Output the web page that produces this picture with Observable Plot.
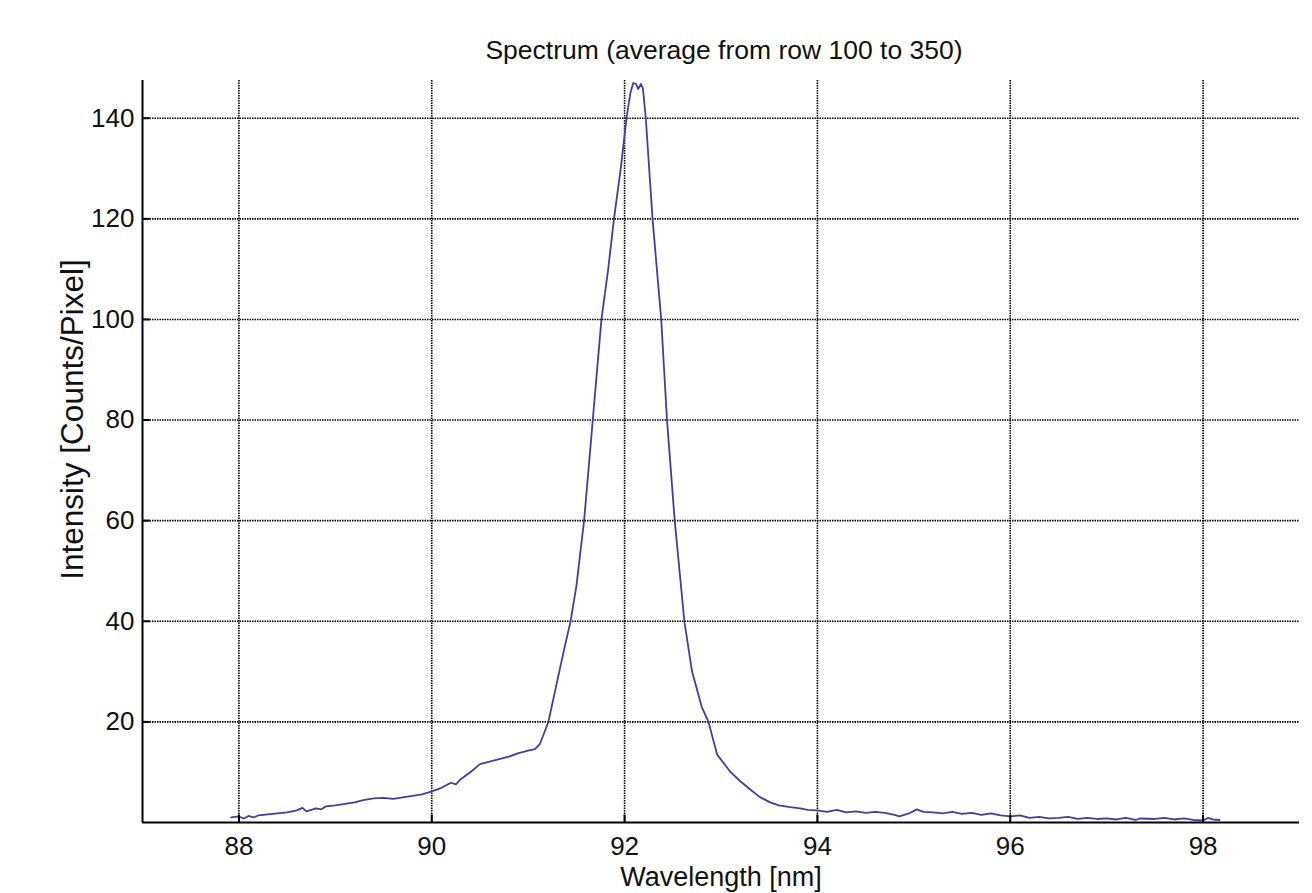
<!DOCTYPE html>
<html>
<head>
<meta charset="utf-8">
<script src="https://cdn.jsdelivr.net/npm/d3@7"></script>
<script src="https://cdn.jsdelivr.net/npm/@observablehq/plot@0.6"></script>
<style>
  html, body { margin: 0; padding: 0; background: #fff; }
  #chart svg { display: block; }
</style>
</head>
<body>
<div id="chart"></div>
<script>
const wavelength = [
  87.92, 88.0, 88.05, 88.1, 88.15, 88.2, 88.3, 88.4, 88.5, 88.6, 88.66, 88.7, 88.8, 88.85, 88.9,
  89.0, 89.1, 89.2, 89.3, 89.4, 89.5, 89.6, 89.7, 89.8, 89.9, 90.0, 90.1, 90.2, 90.25, 90.3,
  90.4, 90.5, 90.6, 90.7, 90.8, 90.9, 91.0, 91.07, 91.12, 91.16, 91.21, 91.3, 91.38, 91.44, 91.5,
  91.58, 91.67, 91.76, 91.83, 91.89, 91.96, 92.02, 92.06, 92.09, 92.12, 92.14, 92.17, 92.19, 92.22,
  92.29, 92.38, 92.44, 92.52, 92.62, 92.7, 92.8, 92.87, 92.96, 93.1, 93.2, 93.3, 93.4, 93.51,
  93.6, 93.7, 93.82, 93.9, 94.0, 94.1, 94.2, 94.3, 94.4, 94.5, 94.6, 94.7, 94.8, 94.85, 94.95,
  95.03, 95.1, 95.2, 95.3, 95.4, 95.5, 95.6, 95.7, 95.8, 95.9, 96.0, 96.1, 96.2, 96.3, 96.4,
  96.5, 96.6, 96.7, 96.8, 96.9, 97.0, 97.1, 97.2, 97.3, 97.35, 97.5, 97.6, 97.7, 97.8, 97.9,
  98.0, 98.05, 98.1, 98.17
];
const intensity = [
  1.0, 1.2, 0.8, 1.3, 1.0, 1.4, 1.6, 1.8, 2.0, 2.4, 2.9, 2.2, 2.8, 2.6, 3.2,
  3.4, 3.7, 4.0, 4.5, 4.8, 4.9, 4.7, 5.0, 5.3, 5.6, 6.2, 6.9, 7.9, 7.6, 8.6,
  10.0, 11.6, 12.1, 12.6, 13.1, 13.8, 14.3, 14.6, 15.6, 17.5, 20.0, 28.0, 35.0, 40.0, 47.0,
  60.0, 80.0, 100.0, 110.0, 120.0, 130.0, 140.0, 145.0, 147.0, 146.8, 145.8, 146.8, 146.0, 140.0,
  120.0, 100.0, 80.0, 60.0, 40.0, 30.0, 23.0, 20.0, 13.5, 10.0, 8.2, 6.6, 5.1, 4.0,
  3.4, 3.1, 2.8, 2.5, 2.4, 2.1, 2.5, 2.0, 2.2, 1.9, 2.1, 1.9, 1.5, 1.2, 1.8,
  2.6, 2.1, 2.0, 1.8, 2.1, 1.7, 1.9, 1.5, 1.8, 1.4, 1.2, 1.4, 0.9, 1.1, 0.8,
  0.9, 1.1, 0.7, 0.9, 0.7, 0.8, 0.6, 0.9, 0.5, 0.8, 0.7, 0.9, 0.6, 0.8, 0.5,
  0.4, 0.9, 0.6, 0.5
];
const xTicks = [88, 90, 92, 94, 96, 98];
const yTicks = [20, 40, 60, 80, 100, 120, 140];
const titleText = "Spectrum (average from row 100 to 350)";
const xLabel = "Wavelength [nm]";
const yLabel = "Intensity [Counts/Pixel]";

const data = wavelength.map((w, i) => ({w, v: intensity[i]}));

const gridStyle = {stroke: "#000", strokeWidth: 1.6, strokeDasharray: "1.5,1"};

const chart = Plot.plot({
  width: 1312,
  height: 893,
  marginLeft: 142,
  marginRight: 13,
  marginTop: 80,
  marginBottom: 71,
  x: {domain: [87, 99], axis: null},
  y: {domain: [0, 147.5], axis: null},
  style: {fontFamily: "'Liberation Sans', Arial, sans-serif", fontSize: "22px", background: "#fff", color: "#111"},
  marks: [
    Plot.ruleX(xTicks, {...gridStyle}),
    Plot.ruleY(yTicks, {...gridStyle}),
    Plot.line(data, {x: "w", y: "v", stroke: "#40409c", strokeWidth: 1.8}),
    Plot.ruleX([87], {stroke: "#000", strokeWidth: 2}),
    Plot.ruleY([0], {stroke: "#000", strokeWidth: 2}),
    Plot.ruleX(xTicks, {y1: 0, y2: 1.5, stroke: "#000", strokeWidth: 2}),
    Plot.ruleY(yTicks, {x1: 87, x2: 87.08, stroke: "#000", strokeWidth: 2}),
    Plot.text(xTicks, {x: d => d, frameAnchor: "bottom", lineAnchor: "middle", dy: 24, text: d => String(d), fontSize: 26, fill: "#111"}),
    Plot.text(yTicks, {y: d => d, frameAnchor: "left", dx: -8, textAnchor: "end", lineAnchor: "middle", text: d => String(d), fontSize: 26, fill: "#111"}),
    Plot.text([titleText], {frameAnchor: "top", lineAnchor: "middle", dy: -30, dx: 3, text: d => d, fontSize: 26.5, fill: "#111"}),
    Plot.text([xLabel], {frameAnchor: "bottom", lineAnchor: "middle", dy: 55, text: d => d, fontSize: 27, fill: "#111"}),
    Plot.text([yLabel], {frameAnchor: "left", textAnchor: "middle", lineAnchor: "middle", dx: -70, dy: -32, rotate: -90, text: d => d, fontSize: 31.5, fill: "#111"})
  ]
});
document.getElementById("chart").appendChild(chart);
</script>
</body>
</html>
